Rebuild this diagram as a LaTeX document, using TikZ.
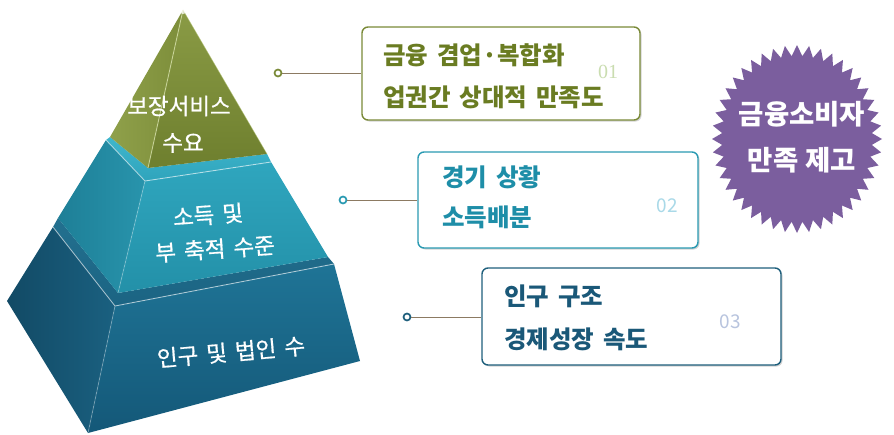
\documentclass[tikz,border=0pt]{standalone}
\usepackage{fontspec}
\setmainfont{Noto Sans CJK KR}
\newfontfamily\krSemi{Noto Sans CJK KR}[FakeBold=0.7]
\usetikzlibrary{shapes.geometric,shadows}
\newcommand\wideSpace{\spaceskip 0.36em plus 0.1em\relax}
\definecolor{gOlive}{HTML}{7A8A38}
\definecolor{gOliveTxt}{HTML}{6A7C22}
\definecolor{gOliveLt}{HTML}{CADDB0}
\definecolor{gTeal}{HTML}{2A9AB2}
\definecolor{gTealTxt}{HTML}{1E8EA8}
\definecolor{gTealLt}{HTML}{A9D9E8}
\definecolor{gBlue}{HTML}{1E5F7C}
\definecolor{gBlueTxt}{HTML}{1A5878}
\definecolor{gBlueLt}{HTML}{B8C4DE}
\definecolor{gLink}{HTML}{8C7A62}
\definecolor{gStar}{HTML}{7B5E9E}
% pyramid colours
\definecolor{b1}{HTML}{23708F}\definecolor{b2}{HTML}{1B6483}
\definecolor{b3}{HTML}{124A65}\definecolor{b4}{HTML}{1A6080}
\definecolor{b5}{HTML}{1F7496}\definecolor{b6}{HTML}{145878}
\definecolor{m1}{HTML}{3FB6CC}\definecolor{m2}{HTML}{2FA4BC}
\definecolor{m3}{HTML}{1E7F97}\definecolor{m4}{HTML}{2894AC}
\definecolor{m5}{HTML}{2FA6BE}\definecolor{m6}{HTML}{2390A8}
\definecolor{o1}{HTML}{8FA04A}\definecolor{o2}{HTML}{7D8E3A}
\definecolor{o3}{HTML}{8A9B45}\definecolor{o4}{HTML}{6E7F2E}
\definecolor{o5}{HTML}{DCE6B0}\definecolor{o6}{HTML}{B8C77A}
\tikzset{
  infobox/.style={draw, rounded corners=6pt, line width=1.4pt, fill=white,
    drop shadow={shadow xshift=1.5pt, shadow yshift=-1.5pt, opacity=0.35},
    inner sep=0pt},
  boxtext/.style={anchor=west, inner sep=0pt, font=\fontsize{24.5}{24.5}\selectfont\bfseries\wideSpace},
  numtext/.style={inner sep=0pt, font=\fontsize{19}{19}\selectfont},
  dotnode/.style={circle, draw, line width=1.7pt, inner sep=0pt, minimum size=7pt, fill=white},
  link/.style={draw=gLink, line width=0.9pt},
  pyrtext/.style={text=white, inner sep=0pt, font=\krSemi\fontsize{22.5}{22.5}\selectfont\wideSpace},
  edge/.style={draw=white, draw opacity=0.55, line width=0.9pt}
}
\begin{document}
\begin{tikzpicture}[x=1pt,y=-1pt]
\useasboundingbox (0,0) rectangle (894,434);
% ---------- pyramid coordinates
\coordinate (A) at (183,10);
\coordinate (GL) at (110,137); \coordinate (GF) at (148,168); \coordinate (GR) at (267,154);
\coordinate (TL) at (106,140); \coordinate (TF) at (145,181); \coordinate (TR) at (271,162);
\coordinate (BL) at (58,218); \coordinate (BF) at (118,293); \coordinate (BR) at (328,257);
\coordinate (UL) at (53,227); \coordinate (UF) at (115,306); \coordinate (UR) at (334,264);
\coordinate (DL) at (7,301); \coordinate (DF) at (88,433); \coordinate (DR) at (360,361);
% ---------- bottom tier
\shade[top color=b1, bottom color=b2] (BL) -- (BF) -- (BR) -- (UR) -- (UF) -- (UL) -- cycle;
\shade[left color=b3, right color=b4] (UL) -- (UF) -- (DF) -- (DL) -- cycle;
\shade[top color=b5, bottom color=b6] (UF) -- (UR) -- (DR) -- (DF) -- cycle;
\draw[edge] (UL) -- (UF) -- (UR);
\draw[edge, draw opacity=0.25] (UF) -- (DF);
% ---------- middle tier
\shade[top color=m1, bottom color=m2] (GL) -- (GF) -- (GR) -- (TR) -- (TF) -- (TL) -- cycle;
\shade[left color=m3, right color=m4] (TL) -- (TF) -- (BF) -- (BL) -- cycle;
\shade[top color=m5, bottom color=m6] (TF) -- (TR) -- (BR) -- (BF) -- cycle;
\draw[edge] (TL) -- (TF) -- (TR);
\draw[edge, draw opacity=0.25] (TF) -- (BF);
% ---------- top tier
\shade[left color=o1, right color=o2] (A) -- (GL) -- (GF) -- cycle;
\shade[top color=o3, bottom color=o4] (A) -- (GF) -- (GR) -- cycle;
\draw[draw=o5, line width=0.9pt, draw opacity=0.7] (A) -- (GF);
\draw[draw=o6, line width=0.6pt, draw opacity=0.6] (A) -- (GR);
\fill[white, opacity=0.7] (183,12) circle (2.2);
% ---------- pyramid labels
\node[pyrtext] (p1a) at (179,106) {보장서비스};
\node[pyrtext] (p1b) at (183,143) {수요};
\node[pyrtext, rotate=4] (p2a) at (208,215) {소득 및};
\node[pyrtext, rotate=4] (p2b) at (215,249) {부 축적 수준};
\node[pyrtext, rotate=5] (p3) at (231,352) {인구 및 법인 수};
% ---------- boxes
\node[infobox, draw=gOlive, minimum width=278pt, minimum height=93pt] (box1) at (501,73.5) {};
\node[infobox, draw=gTeal, minimum width=280pt, minimum height=96pt] (box2) at (558,200) {};
\node[infobox, draw=gBlue, minimum width=299pt, minimum height=97pt] (box3) at (631.5,316.5) {};
\node[boxtext, text=gOliveTxt] (t1a) at (383,55) {금융 겸업·복합화};
\node[boxtext, text=gOliveTxt] (t1b) at (383,97) {업권간 상대적 만족도};
\node[boxtext, text=gTealTxt] (t2a) at (442,177) {경기 상황};
\node[boxtext, text=gTealTxt] (t2b) at (442,217) {소득배분};
\node[boxtext, text=gBlueTxt] (t3a) at (504,296) {인구 구조};
\node[boxtext, text=gBlueTxt] (t3b) at (504,339) {경제성장 속도};
\node[numtext, text=gOliveLt, font=\fontsize{20}{20}\selectfont] (n1) at (608,72) {\fontspec{Liberation Serif}01};
\node[numtext, text=gTealLt] (n2) at (667,206) {02};
\node[numtext, text=gBlueLt] (n3) at (730,322) {03};
% ---------- connectors
\node[dotnode, draw=gOlive] (c1) at (278,73) {};
\node[dotnode, draw=gTeal] (c2) at (343,200) {};
\node[dotnode, draw=gBlue] (c3) at (407,317) {};
\draw[link] (c1) -- (box1.west |- c1);
\draw[link] (c2) -- (box2.west |- c2);
\draw[link] (c3) -- (box3.west |- c3);
% ---------- star
\coordinate (star) at (797,139);
\fill[gStar] plot[samples=89, domain=0:88, variable=\k]
  ({797+(80+5*cos(180*\k))*cos(360/88*\k)}, {139+(88.5+5.5*cos(180*\k))*sin(360/88*\k)}) -- cycle;
\node[text=white, font=\fontsize{27.5}{27.5}\selectfont\bfseries] (st1) at (802,114) {금융소비자};
\node[text=white, font=\fontsize{27.5}{27.5}\selectfont\bfseries\spaceskip 0.25em\relax] (st2) at (802,160) {만족 제고};
\end{tikzpicture}
\end{document}
